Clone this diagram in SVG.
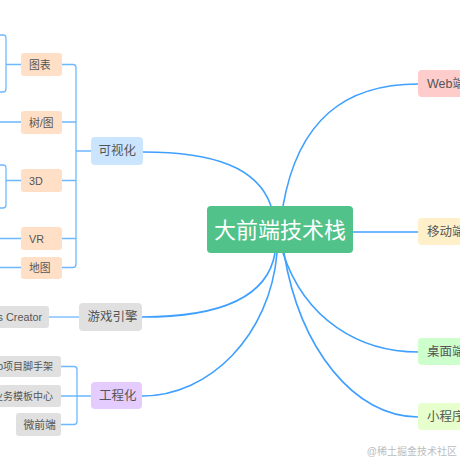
<svg xmlns="http://www.w3.org/2000/svg" width="460" height="460" viewBox="0 0 460 460">
<style>
text{font-family:"Liberation Sans","Noto Sans CJK SC",sans-serif;fill:#555;dominant-baseline:central}
.t2{font-size:12.5px}
.t3{font-size:10.8px}
.t4{font-size:10px;text-anchor:end}
.root{font-size:22px;fill:#fff;text-anchor:middle}
.main{fill:none;stroke:#3fa0ff;stroke-width:1.6}
.sub{fill:none;stroke:#6db8ff;stroke-width:1.3}
.wm{font-size:10px;fill:#bdbdbd;text-anchor:end}
</style>
<rect width="460" height="460" fill="#fff"/>
<g id="connectors">
  <path class="main" d="M271,206 C258,168 215,152 143,152"/>
  <path class="main" d="M283,206 C298,120 345,84 418,84"/>
  <path class="main" d="M353,232 H418"/>
  <path class="main" d="M283,253 C305,320 360,352 418,352"/>
  <path class="main" d="M284,253 C300,350 355,417 418,417"/>
  <path class="main" d="M275,253 C268,295 225,317 142,317"/>
  <path class="main" d="M277,253 C270,335 210,396 142,396"/>
  <path class="sub" d="M62,64.5 H73 Q76,64.5 76,67.5 V264.5 Q76,267.5 73,267.5 H62 M62,122 H76 M62,180.5 H76 M62,238.5 H76 M76,151 H91"/>
  <path class="sub" d="M0,35 H3 Q6,35 6,38 V89 Q6,92 3,92 H0 M6,64.5 H21"/>
  <path class="sub" d="M0,165 H3 Q6,165 6,168 V205 Q6,208 3,208 H0 M6,180.5 H21"/>
  <path class="sub" d="M0,122 H21 M0,238.5 H21 M0,267.5 H21"/>
  <path class="sub" d="M49,317 H79"/>
  <path class="sub" d="M61,366.5 H74 Q77,366.5 77,369.5 V421.5 Q77,424.5 74,424.5 H61 M61,396 H91"/>
</g>
<g id="root">
  <rect x="207" y="206" width="146" height="47" rx="4" fill="#52c28b"/>
  <text class="root" x="280" y="230">大前端技术栈</text>
</g>
<g id="web">
  <rect x="418" y="70" width="60" height="27" rx="4" fill="#ffcccc"/>
  <text class="t2" x="427" y="83.5">Web端</text>
</g>
<g id="mobile">
  <rect x="418" y="218" width="60" height="27" rx="4" fill="#fff0c9"/>
  <text class="t2" x="427" y="231.5">移动端</text>
</g>
<g id="desktop">
  <rect x="418" y="338" width="60" height="27" rx="4" fill="#ccffcc"/>
  <text class="t2" x="427" y="351.5">桌面端</text>
</g>
<g id="miniapp">
  <rect x="418" y="403" width="60" height="27" rx="4" fill="#e6ffcc"/>
  <text class="t2" x="427" y="416.5">小程序</text>
</g>
<g id="visual">
  <rect x="91" y="137" width="52" height="28" rx="4" fill="#cce5ff"/>
  <text class="t2" x="98.5" y="151">可视化</text>
</g>
<g id="chart">
  <rect x="21" y="53" width="41" height="23" rx="3" fill="#ffe0c6"/>
  <text class="t3" x="29" y="64.5">图表</text>
</g>
<g id="tree">
  <rect x="21" y="111" width="41" height="23" rx="3" fill="#ffe0c6"/>
  <text class="t3" x="29" y="122.5">树/图</text>
</g>
<g id="threed">
  <rect x="21" y="169" width="41" height="23" rx="3" fill="#ffe0c6"/>
  <text class="t3" x="29" y="180.5">3D</text>
</g>
<g id="vr">
  <rect x="21" y="227" width="41" height="23" rx="3" fill="#ffe0c6"/>
  <text class="t3" x="29" y="238.5">VR</text>
</g>
<g id="map">
  <rect x="21" y="257" width="41" height="22" rx="3" fill="#ffe0c6"/>
  <text class="t3" x="29" y="268">地图</text>
</g>
<g id="game">
  <rect x="79" y="303" width="63" height="28" rx="4" fill="#e0e0e0"/>
  <text class="t2" x="87.5" y="317">游戏引擎</text>
</g>
<g id="cocos">
  <rect x="-45" y="306" width="94" height="22" rx="3" fill="#e0e0e0"/>
  <text class="t3" x="42" y="317" text-anchor="end">Cocos Creator</text>
</g>
<g id="eng">
  <rect x="91" y="382" width="51" height="27" rx="4" fill="#e5ccff"/>
  <text class="t2" x="99" y="395.5">工程化</text>
</g>
<g id="scaffold">
  <rect x="-40" y="356" width="101" height="21" rx="3" fill="#e0e0e0"/>
  <text class="t4" x="53" y="366.5">Web项目脚手架</text>
</g>
<g id="template">
  <rect x="-20" y="385" width="81" height="22" rx="3" fill="#e0e0e0"/>
  <text class="t4" x="53" y="396">业务模板中心</text>
</g>
<g id="micro">
  <rect x="16" y="413" width="45" height="23" rx="3" fill="#e0e0e0"/>
  <text class="t3" x="23.5" y="424.5">微前端</text>
</g>
<text class="wm" x="457" y="451">@稀土掘金技术社区</text>
</svg>
